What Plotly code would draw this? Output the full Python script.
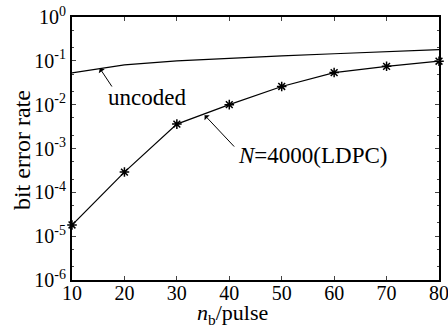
import plotly.graph_objects as go

nb = [10, 20, 30, 40, 50, 60, 70, 80]
uncoded = [0.053, 0.081, 0.10, 0.115, 0.13, 0.145, 0.16, 0.18]
ldpc = [1.8e-5, 2.9e-4, 3.6e-3, 1.0e-2, 2.6e-2, 5.4e-2, 7.5e-2, 9.8e-2]

ytick_vals = [1e0, 1e-1, 1e-2, 1e-3, 1e-4, 1e-5, 1e-6]
ytick_text = ["10<sup>0</sup>", "10<sup>-1</sup>", "10<sup>-2</sup>", "10<sup>-3</sup>",
              "10<sup>-4</sup>", "10<sup>-5</sup>", "10<sup>-6</sup>"]
xtick_vals = [10, 20, 30, 40, 50, 60, 70, 80]

FONT = "Liberation Serif"

fig = go.Figure()
fig.add_trace(go.Scatter(x=nb, y=uncoded, mode="lines",
                         line=dict(color="black", width=1.2), showlegend=False))
fig.add_trace(go.Scatter(x=nb, y=ldpc, mode="lines+markers",
                         line=dict(color="black", width=1.2),
                         marker=dict(symbol="asterisk-open", size=8,
                                     line=dict(color="black", width=1.5)),
                         showlegend=False, cliponaxis=False))

fig.update_layout(
    width=448, height=326,
    margin=dict(l=72, r=9, t=17, b=46, autoexpand=False),
    paper_bgcolor="white", plot_bgcolor="white",
    font=dict(family=FONT, size=20, color="black"),
    xaxis=dict(range=[10, 80], tickvals=xtick_vals, ticks="inside", ticklen=4,
               showline=True, linecolor="black", linewidth=2, mirror="ticks",
               showgrid=False, zeroline=False, automargin=False,
               ticklabeloverflow="allow", ticklabelstandoff=-6,
               tickfont=dict(size=20)),
    yaxis=dict(type="log", range=[-6, 0], tickvals=ytick_vals, ticktext=ytick_text,
               ticks="inside", ticklen=4,
               minor=dict(ticks="inside", ticklen=2, showgrid=False),
               showline=True, linecolor="black", linewidth=2, mirror="ticks",
               showgrid=False, zeroline=False, automargin=False,
               ticklabeloverflow="allow",
               tickfont=dict(size=20)),
)

# axis titles
fig.add_annotation(x=0.438, y=0, xref="paper", yref="paper", yshift=-18,
                   text="<i>n</i><sub>b</sub>/pulse", showarrow=False,
                   xanchor="center", yanchor="top", font=dict(family=FONT, size=22))
fig.add_annotation(x=0, y=0.494, xref="paper", yref="paper", xshift=-50,
                   text="bit error rate", textangle=-90, showarrow=False,
                   xanchor="center", yanchor="middle", font=dict(family=FONT, size=24))

# arrows
fig.add_annotation(x=15.3, y=-1.17, ax=17.8, ay=-1.62, axref="x", ayref="y",
                   xref="x", yref="y", text="", showarrow=True,
                   arrowhead=1, arrowsize=1.2, arrowwidth=1, arrowcolor="black")
fig.add_annotation(x=16.5, y=-1.83, xref="x", yref="y", text="uncoded",
                   showarrow=False, xanchor="left", yanchor="middle",
                   font=dict(family=FONT, size=23))
fig.add_annotation(x=35.3, y=-2.24, ax=41.2, ay=-2.99, axref="x", ayref="y",
                   xref="x", yref="y", text="", showarrow=True,
                   arrowhead=1, arrowsize=1.2, arrowwidth=1, arrowcolor="black")
fig.add_annotation(x=41.3, y=-3.15, xref="x", yref="y", text="<i>N</i>=4000(LDPC)",
                   showarrow=False, xanchor="left", yanchor="middle",
                   font=dict(family=FONT, size=23))

fig.write_html("out.html", config={"displayModeBar": False},
               post_script="document.body.style.margin='0';document.body.style.overflow='hidden';")
